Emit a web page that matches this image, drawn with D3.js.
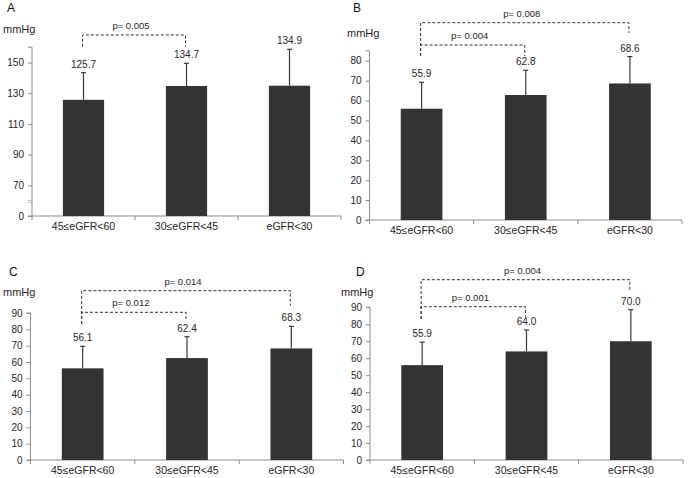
<!DOCTYPE html>
<html>
<head>
<meta charset="utf-8">
<script src="https://cdn.jsdelivr.net/npm/d3@7"></script>
<style>
  html, body { margin: 0; padding: 0; background: #fff; }
  svg { display: block; font-family: Arial, "Liberation Sans", sans-serif; }
</style>
</head>
<body>
<svg id="chart" width="688" height="478"></svg>
<script>
// ---------- data ----------
const categories = ["45≤eGFR<60", "30≤eGFR<45", "eGFR<30"];

const meanA = [125.7, 134.7, 134.9];
const sdA   = [17.7, 14.8, 23.7];
const meanB = [55.9, 62.8, 68.6];
const sdB   = [13.3, 12.4, 13.5];
const meanC = [56.1, 62.4, 68.3];
const sdC   = [13.5, 13.1, 13.5];
const meanD = [55.9, 64.0, 70.0];
const sdD   = [13.6, 12.6, 18.6];

// panel A uses a broken axis: the lowest tick is labelled "0"
const tickValuesA = [50, 70, 90, 110, 130, 150];
const tickLabelsA = ["0", "70", "90", "110", "130", "150"];
const tickValuesB = [0, 10, 20, 30, 40, 50, 60, 70, 80];
const tickValuesCD = [0, 10, 20, 30, 40, 50, 60, 70, 80, 90];

const bracketsA = [[0, 1, "p= 0.005"]];
const bracketsB = [[0, 1, "p= 0.004"], [0, 2, "p= 0.008"]];
const bracketsC = [[0, 1, "p= 0.012"], [0, 2, "p= 0.014"]];
const bracketsD = [[0, 1, "p= 0.001"], [0, 2, "p= 0.004"]];

// ---------- layout ----------
const panels = [
  { key: "A", mean: meanA, sd: sdA, ticks: tickValuesA, tickLabels: tickLabelsA, brackets: bracketsA,
    domain: [50, 160], x0: 32, x1: 341, yBase: 216, yTop: 47.2,
    letter: [7, 12], unit: [3, 33], levels: [35], rightDrop: [46.7], leftDrop: 46.7, brk: true },
  { key: "B", mean: meanB, sd: sdB, ticks: tickValuesB, tickLabels: null, brackets: bracketsB,
    domain: [0, 85], x0: 369.5, x1: 682, yBase: 220, yTop: 50.8,
    letter: [353, 12], unit: [347, 37], levels: [45, 22.7], rightDrop: [56, 33], leftDrop: 56 },
  { key: "C", mean: meanC, sd: sdC, ticks: tickValuesCD, tickLabels: null, brackets: bracketsC,
    domain: [0, 90], x0: 30.5, x1: 343.5, yBase: 460, yTop: 313,
    letter: [9, 276], unit: [3, 296], levels: [312.3, 290.7], rightDrop: [319, 305.7], leftDrop: 324 },
  { key: "D", mean: meanD, sd: sdD, ticks: tickValuesCD, tickLabels: null, brackets: bracketsD,
    domain: [0, 90], x0: 370, x1: 683, yBase: 460, yTop: 307.3,
    letter: [356, 276], unit: [341, 296], levels: [306.7, 279.7], rightDrop: [316.7, 290.7], leftDrop: 319 }
];

const svg = d3.select("#chart");
const barColor = "#333333";
const axisColor = "#8c8c8c";
const textColor = "#262626";

panels.forEach(p => {
  const g = svg.append("g");
  const x = d3.scaleBand().domain(categories).range([p.x0, p.x1]).paddingInner(0.6).paddingOuter(0.3);
  const y = d3.scaleLinear().domain(p.domain).range([p.yBase, p.yTop]);
  const step = (p.x1 - p.x0) / categories.length;

  // y axis
  const yAxis = d3.axisLeft(y).tickValues(p.ticks).tickSize(4).tickPadding(4)
    .tickFormat((d, i) => p.tickLabels ? p.tickLabels[i] : d);
  const ya = g.append("g").attr("transform", `translate(${p.x0},0)`).call(yAxis);
  ya.select(".domain").attr("stroke", axisColor).attr("d", `M-4,${y(p.domain[1])}H0V${p.yBase}H-4`);
  ya.selectAll(".tick line").attr("stroke", axisColor);
  ya.selectAll(".tick text").attr("fill", textColor).style("font-size", "10px")
    .style("font-family", "Arial, 'Liberation Sans', sans-serif");

  // x axis line and boundary ticks
  g.append("line").attr("x1", p.x0).attr("x2", p.x1).attr("y1", p.yBase).attr("y2", p.yBase)
    .attr("stroke", axisColor);
  d3.range(categories.length + 1).forEach(i => {
    g.append("line").attr("x1", p.x0 + i * step).attr("x2", p.x0 + i * step)
      .attr("y1", p.yBase).attr("y2", p.yBase + 4).attr("stroke", axisColor);
  });

  // category labels
  g.selectAll(".cat").data(categories).join("text")
    .attr("x", d => x(d) + x.bandwidth() / 2).attr("y", p.yBase + 14)
    .attr("text-anchor", "middle").attr("fill", textColor).style("font-size", "10.5px")
    .text(d => d);

  // bars
  g.selectAll(".bar").data(categories).join("rect")
    .attr("x", d => x(d)).attr("width", x.bandwidth())
    .attr("y", (d, i) => y(p.mean[i])).attr("height", (d, i) => p.yBase - y(p.mean[i]))
    .attr("fill", barColor);

  // error bars (upper only)
  categories.forEach((c, i) => {
    const cx = x(c) + x.bandwidth() / 2;
    const yt = y(p.mean[i] + p.sd[i]);
    g.append("line").attr("x1", cx).attr("x2", cx).attr("y1", y(p.mean[i])).attr("y2", yt)
      .attr("stroke", "#3a3a3a").attr("stroke-width", 1.2);
    g.append("line").attr("x1", cx - 2.5).attr("x2", cx + 2.5).attr("y1", yt).attr("y2", yt)
      .attr("stroke", "#3a3a3a").attr("stroke-width", 1.2);
    g.append("text").attr("x", cx).attr("y", yt - 5).attr("text-anchor", "middle")
      .attr("fill", textColor).style("font-size", "10px").text(p.mean[i].toFixed(1));
  });

  // significance brackets
  p.brackets.forEach((b, k) => {
    const xa = x(categories[b[0]]) + x.bandwidth() / 2 - 1;
    const xb = x(categories[b[1]]) + x.bandwidth() / 2 - 1;
    const ly = p.levels[k];
    g.append("path")
      .attr("d", `M${xa},${p.leftDrop}V${ly}H${xb}V${p.rightDrop[k]}`)
      .attr("fill", "none").attr("stroke", "#333").attr("stroke-width", 1)
      .attr("stroke-dasharray", "3,2");
    g.append("text").attr("x", (xa + xb) / 2 - 3).attr("y", ly - 6).attr("text-anchor", "middle")
      .attr("fill", textColor).style("font-size", "9.5px").text(b[2]);
  });

  // panel letter and unit
  g.append("text").attr("x", p.letter[0]).attr("y", p.letter[1]).attr("fill", "#111")
    .style("font-size", "12px").text(p.key);
  g.append("text").attr("x", p.unit[0]).attr("y", p.unit[1]).attr("fill", textColor)
    .style("font-size", "11px").text("mmHg");

  if (p.brk) {
    g.append("text").attr("x", p.x0 - 2).attr("y", (y(50) + y(70)) / 2 + 3).attr("text-anchor", "middle")
      .attr("fill", "#999").style("font-size", "8px").text("≈");
  }
});
</script>
</body>
</html>
